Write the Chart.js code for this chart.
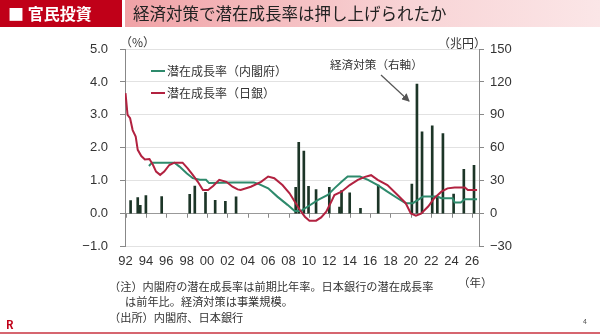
<!DOCTYPE html>
<html><head><meta charset="utf-8">
<script src="https://cdn.jsdelivr.net/npm/chart.js@4.4.0/dist/chart.umd.min.js"></script>
<style>
body{margin:0;width:600px;height:335px;overflow:hidden;background:#fff;font-family:"Noto Sans CJK JP","Liberation Sans",sans-serif;position:relative}
canvas{position:absolute;left:0;top:0}
.t{position:absolute;white-space:nowrap;line-height:1;color:#333}
#hdrL{position:absolute;left:0;top:0;width:122px;height:27px;background:#c00018}
#hdrR{position:absolute;left:125px;top:0;width:475px;height:27px;background:linear-gradient(to right,#f0a2a6,#f8d4d6 60%,#fbe6e7)}
</style></head><body>
<canvas id="c" width="600" height="335"></canvas>
<div id="hdrL"></div><div id="hdrR"></div>
<div class="t" style="left:8px;top:5px;font-size:16px;font-weight:bold;color:#fff">■ 官民投資</div>
<div class="t" style="left:133px;top:5px;font-size:16.5px;color:#222">経済対策で潜在成長率は押し上げられたか</div>
<div class="t" style="left:120px;top:36px;font-size:12px">（%）</div>
<div class="t" style="left:438px;top:37px;font-size:12px">（兆円）</div>
<div style="position:absolute;left:151px;top:70px;width:14px;height:2px;background:#2e8a6c"></div>
<div class="t" style="left:167px;top:65px;font-size:12px">潜在成長率（内閣府）</div>
<div style="position:absolute;left:151px;top:92px;width:14px;height:2px;background:#b22240"></div>
<div class="t" style="left:167px;top:87px;font-size:12px">潜在成長率（日銀）</div>
<div class="t" style="left:330px;top:59px;font-size:11.6px">経済対策（右軸）</div>
<svg style="position:absolute;left:0;top:0" width="600" height="335">
<defs><marker id="ah" markerWidth="8" markerHeight="8" refX="7" refY="4" orient="auto" markerUnits="userSpaceOnUse"><path d="M0,0 L8,4 L0,8 z" fill="#555"/></marker></defs>
<line x1="381" y1="75" x2="409" y2="101" stroke="#555" stroke-width="1.2" marker-end="url(#ah)"/>
<line x1="0" y1="333" x2="600" y2="333" stroke="#c9323f" stroke-width="1.5"/>
</svg>
<div class="t" style="left:458px;top:277px;font-size:11.5px">（年）</div>
<div class="t" style="left:109px;top:281px;font-size:11.2px">（注）内閣府の潜在成長率は前期比年率。日本銀行の潜在成長率</div>
<div class="t" style="left:125px;top:296px;font-size:11.2px">は前年比。経済対策は事業規模。</div>
<div class="t" style="left:109px;top:312px;font-size:11.2px">（出所）内閣府、日本銀行</div>
<div class="t" style="left:583px;top:318px;font-size:7px;color:#555">4</div>
<div class="t" style="left:6px;top:319px;font-size:11px;font-weight:bold;color:#c00018">R</div>
<script>
const xTickYears = [1992,1994,1996,1998,2000,2002,2004,2006,2008,2010,2012,2014,2016,2018,2020,2022,2024,2026];
const xTickLabels = ["92","94","96","98","00","02","04","06","08","10","12","14","16","18","20","22","24","26"];

const cabinetYears = [1994.3,1994.6,1996.8,1997.3,1998.0,1998.6,1999.3,1999.9,2000.2,2002.6,2004.6,2005.1,2006.0,2006.9,2007.9,2008.6,2009.2,2009.9,2010.9,2011.85,2012.5,2013.2,2013.8,2015.0,2015.8,2016.75,2017.7,2018.7,2019.5,2020.2,2020.7,2021.2,2022.6,2023.0,2024.1,2024.3,2024.9,2025.3,2026.5];
const cabinetValues = [1.45,1.55,1.55,1.43,1.23,1.08,1.03,1.03,0.93,0.95,0.95,0.90,0.77,0.52,0.27,0.08,0.08,0.22,0.42,0.57,0.77,0.97,1.13,1.13,1.03,0.87,0.67,0.47,0.32,0.32,0.42,0.52,0.52,0.47,0.47,0.34,0.34,0.44,0.44];

const bojYears = [1992.0,1992.2,1992.45,1992.7,1993.0,1993.2,1993.55,1993.9,1994.35,1994.7,1995.0,1995.4,1995.8,1996.3,1996.8,1997.6,1998.1,1998.6,1999.1,1999.6,2000.1,2000.6,2001.2,2001.9,2002.5,2003.0,2003.3,2004.3,2005.3,2006.0,2006.6,2007.4,2008.1,2008.6,2009.1,2009.6,2010.05,2010.7,2011.2,2011.7,2012.2,2012.5,2013.2,2014.0,2014.8,2015.5,2016.1,2016.75,2017.7,2018.7,2019.5,2020.0,2020.5,2021.0,2021.7,2022.3,2023.0,2023.6,2024.3,2025.3,2025.6,2026.5];
const bojValues = [3.66,3.0,2.9,2.54,2.34,1.94,1.75,1.65,1.66,1.48,1.28,1.18,1.28,1.48,1.55,1.55,1.38,1.18,0.97,0.72,0.72,0.84,1.03,0.97,0.82,0.74,0.72,0.82,0.97,1.13,1.08,0.87,0.62,0.37,0.12,-0.09,-0.21,-0.21,-0.11,0.06,0.37,0.57,0.67,0.87,1.03,1.12,1.17,1.03,0.87,0.57,0.32,0.01,-0.06,0.0,0.22,0.47,0.67,0.77,0.80,0.80,0.72,0.72];

const stimulusYears = [1992.5,1993.2,1993.45,1994.0,1995.55,1998.3,1998.8,1999.85,2000.8,2001.8,2002.85,2008.7,2009.0,2009.5,2009.96,2010.7,2012.0,2013.0,2013.2,2014.0,2015.06,2016.8,2020.1,2020.6,2021.1,2022.1,2022.6,2023.15,2024.2,2025.2,2026.2];
const stimulusValues = [12,14.7,7.7,16.5,15.6,17.7,25.3,19.5,12.3,11.4,15.5,24,65,57,25,22,24,6,21,19,5,26,27,118,74.6,80,15.5,73,18,40.5,44];

const GREEN = '#2e8a6c', RED = '#b22240', BAR = '#1c3527';
const pts = (xs, ys) => xs.map((x, i) => ({x: x, y: ys[i]}));

const zeroTicks = {
  id: 'zeroTicks',
  beforeDatasetsDraw(chart) {
    const ctx = chart.ctx, xs = chart.scales.x, ys = chart.scales.y;
    const y0 = ys.getPixelForValue(0);
    ctx.save();
    ctx.strokeStyle = '#888'; ctx.lineWidth = 1;
    xs.ticks.forEach(t => {
      const px = Math.round(xs.getPixelForValue(t.value)) + 0.5;
      ctx.beginPath(); ctx.moveTo(px, y0); ctx.lineTo(px, y0 + 4); ctx.stroke();
    });
    ctx.restore();
  }
};

new Chart(document.getElementById('c'), {
  type: 'bar',
  data: {
    datasets: [
      {type: 'line', label: '潜在成長率（内閣府）', data: pts(cabinetYears, cabinetValues), yAxisID: 'y', borderColor: GREEN, borderWidth: 2, pointRadius: 0, tension: 0, order: 1},
      {type: 'line', label: '潜在成長率（日銀）', data: pts(bojYears, bojValues), yAxisID: 'y', borderColor: RED, borderWidth: 2, pointRadius: 0, tension: 0, order: 0},
      {type: 'bar', label: '経済対策（右軸）', data: pts(stimulusYears, stimulusValues), yAxisID: 'y1', backgroundColor: BAR, barThickness: 2, order: 2}
    ]
  },
  options: {
    responsive: false, animation: false,
    layout: {padding: {top: 49, left: 0, right: 0, bottom: 0}},
    plugins: {legend: {display: false}, tooltip: {enabled: false}},
    scales: {
      x: {
        type: 'linear', min: 1991.95, max: 2026.69, offset: false,
        afterBuildTicks: s => { s.ticks = xTickYears.map(v => ({value: v})); },
        afterFit: s => { s.height = 88.3; },
        grid: {display: false, drawTicks: false},
        border: {display: false},
        ticks: {padding: 7, maxRotation: 0, autoSkip: false, color: '#333', font: {family: 'Liberation Sans', size: 13},
          callback: (v) => { const i = xTickYears.indexOf(v); return i >= 0 ? xTickLabels[i] : ''; }}
      },
      y: {
        position: 'left', min: -1, max: 5,
        afterFit: s => { s.width = 125; },
        grid: {color: ctx => ctx.tick && ctx.tick.value === 0 ? '#999' : '#e2e2e2', tickColor: '#888', tickLength: 5, lineWidth: 1},
        border: {display: true, color: '#888'},
        ticks: {stepSize: 1, padding: 12, color: '#333', font: {family: 'Liberation Sans', size: 13},
          callback: v => (v < 0 ? '−' + Math.abs(v).toFixed(1) : v.toFixed(1))}
      },
      y1: {
        position: 'right', min: -30, max: 150,
        afterFit: s => { s.width = 121; },
        grid: {drawOnChartArea: false, tickColor: '#888', tickLength: 5},
        border: {display: true, color: '#888'},
        ticks: {stepSize: 30, padding: 6, color: '#333', font: {family: 'Liberation Sans', size: 13},
          callback: v => (v < 0 ? '−' + Math.abs(v) : String(v))}
      }
    }
  },
  plugins: [zeroTicks]
});
</script>
</body></html>
